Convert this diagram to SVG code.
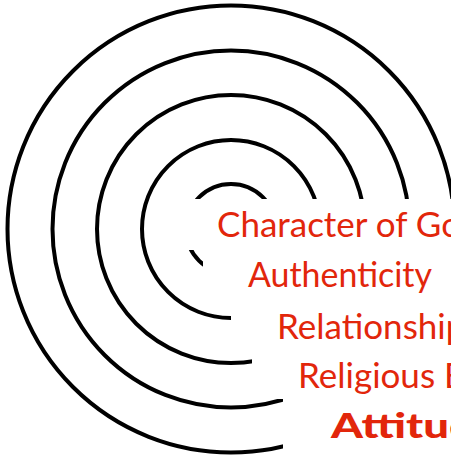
<svg xmlns="http://www.w3.org/2000/svg" width="451" height="455" viewBox="0 0 451 455">
<style>
.ring{fill:none;stroke:#000;stroke-width:4}
.bg{fill:#fff}
.lbl{font-family:Lato,"Open Sans","Liberation Sans",sans-serif;font-size:35px;fill:#e2260b}
.bold{font-weight:900}
</style>
<rect width="451" height="455" fill="#fff"/>
<g id="rings">
<circle class="ring" cx="231" cy="229" r="223.5"/>
<circle class="ring" cx="231" cy="229" r="178.5"/>
<circle class="ring" cx="231" cy="229" r="134"/>
<circle class="ring" cx="231" cy="229" r="89"/>
<circle class="ring" cx="231" cy="229" r="45"/>
</g>
<g id="label-character">
<rect class="bg" x="171" y="199" width="290" height="51"/>
<text class="lbl" x="217" y="237">Character of God</text>
</g>
<g id="label-authenticity">
<rect class="bg" x="203" y="250" width="260" height="60"/>
<text class="lbl" x="248" y="287" textLength="184" lengthAdjust="spacingAndGlyphs">Authenticity</text>
</g>
<g id="label-relationship">
<rect class="bg" x="231" y="301" width="230" height="56"/>
<text class="lbl" x="277" y="339">Relationships</text>
</g>
<g id="label-religious">
<rect class="bg" x="252" y="352" width="210" height="47"/>
<text class="lbl" x="298" y="388">Religious Beliefs</text>
</g>
<g id="label-attitude">
<rect class="bg" x="283" y="399" width="180" height="60"/>
<text class="lbl bold" transform="translate(331,438) scale(1.3,1)" x="0" y="0">Attitudes</text>
</g>
</svg>
